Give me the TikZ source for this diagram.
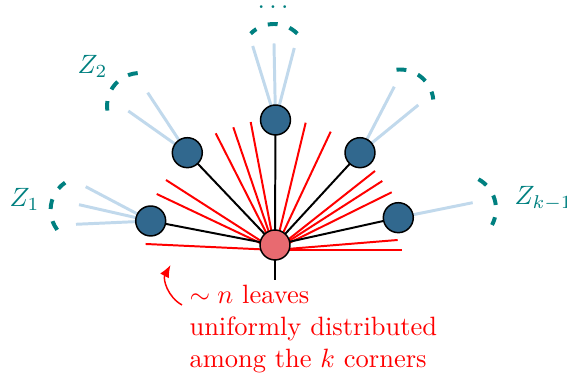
\documentclass[tikz,border=0pt]{standalone}
\usetikzlibrary{arrows.meta,backgrounds}
\definecolor{nodeblue}{RGB}{49,104,142}
\definecolor{nodered}{RGB}{232,106,112}
\definecolor{leafblue}{RGB}{193,217,236}
\definecolor{zteal}{RGB}{0,128,128}
\begin{document}
\begin{tikzpicture}[x=0.404pt,y=0.404pt,
  corner/.style={circle,draw=black,line width=0.6pt,fill=nodeblue,inner sep=0pt,minimum size=12.1pt},
  root/.style={corner,fill=nodered},
  edge/.style={black,line width=0.8pt},
  leaf/.style={red,line width=0.8pt},
  sub/.style={leafblue,line width=1.2pt},
  cluster/.style={zteal,line width=1.6pt,dash pattern=on 4pt off 5pt},
  big/.style={scale=1.07},
  zlabel/.style={big,text=zteal,inner sep=0pt,anchor=base west}]
\useasboundingbox (0,0) rectangle (567,374);

% nodes
\node[root]   (C)  at (275,129) {};
\node[corner] (B1) at (150.7,153) {};
\node[corner] (B2) at (187.3,221.3) {};
\node[corner] (B3) at (275.5,254) {};
\node[corner] (B4) at (360,221.3) {};
\node[corner] (B5) at (398.3,156.3) {};

% end points
\coordinate (rc) at (275,124);
\coordinate (stub) at (275,94);
\coordinate (l1) at (145.7,130);
\coordinate (l2) at (156.7,180);
\coordinate (l3) at (166,194);
\coordinate (l4) at (215.7,240.7);
\coordinate (l5) at (233.3,246.7);
\coordinate (l6) at (250.7,252);
\coordinate (l7) at (305.7,251.3);
\coordinate (l8) at (330.7,242.3);
\coordinate (l9) at (375,203);
\coordinate (l10) at (382.3,193);
\coordinate (l11) at (391.7,181.7);
\coordinate (l12) at (397.7,134);
\coordinate (l13) at (401.7,124);

\coordinate (a11) at (85.7,187.3);
\coordinate (a12) at (79,169.3);
\coordinate (a13) at (76,149.7);
\coordinate (a21) at (147.7,281.3);
\coordinate (a22) at (128.3,263);
\coordinate (a31) at (252.7,328);
\coordinate (a32) at (274,330.5);
\coordinate (a33) at (294.3,326);
\coordinate (a41) at (394.3,287.3);
\coordinate (a42) at (418.3,269);
\coordinate (a51) at (472.7,171.3);

\begin{scope}[on background layer]
  \foreach \i in {1,...,13} \draw[leaf] (rc) -- (l\i);
  \foreach \b in {B1,B2,B3,B4,B5} \draw[edge] (C.center) -- (\b.center);
  \draw[edge] (C.center) -- (stub);
  \foreach \a in {a11,a12,a13} \draw[sub] (B1.center) -- (\a);
  \foreach \a in {a21,a22} \draw[sub] (B2.center) -- (\a);
  \foreach \a in {a31,a32,a33} \draw[sub] (B3.center) -- (\a);
  \foreach \a in {a41,a42} \draw[sub] (B4.center) -- (\a);
  \draw[sub] (B5.center) -- (a51);
\end{scope}

% cluster arcs
\coordinate (z1) at (83.6,164);
\coordinate (z2) at (140,268);
\coordinate (z3) at (274,317);
\coordinate (z4) at (400,271);
\coordinate (z5) at (462,165);
\draw[cluster] (z1) ++(217:13.33pt) arc[start angle=217,end angle=124,radius=13.33pt];
\draw[cluster] (z2) ++(94:13.33pt) arc[start angle=94,end angle=188,radius=13.33pt];
\draw[cluster] (z3) ++(45:13.33pt) arc[start angle=45,end angle=135,radius=13.33pt];
\draw[cluster] (z4) ++(96:13.53pt) arc[start angle=96,end angle=6,radius=13.53pt];
\draw[cluster] (z5) ++(61:13.74pt) arc[start angle=61,end angle=-28,radius=13.74pt];

% labels
\node[zlabel] (Z1) at (9,167.3) {$Z_1$};
\node[zlabel] (Z2) at (77,300.7) {$Z_2$};
\node[zlabel] (Zk) at (514,169) {$Z_{k-1}$};
\node[big,text=zteal,anchor=base,inner sep=0pt] (dots) at (273,365.5) {$\ldots$};

% annotation
\node[big,text=red,align=left,anchor=north west,inner sep=0pt] (txt) at (189,89)
  {$\sim n$ leaves\\uniformly distributed\\among the $k$ corners};
\coordinate (as) at (182,69);
\coordinate (ae) at (170.5,109);
\draw[red,line width=0.6pt,-{Latex[length=5pt,width=4pt]}] (as) to[bend left=45] (ae);
\end{tikzpicture}
\end{document}
